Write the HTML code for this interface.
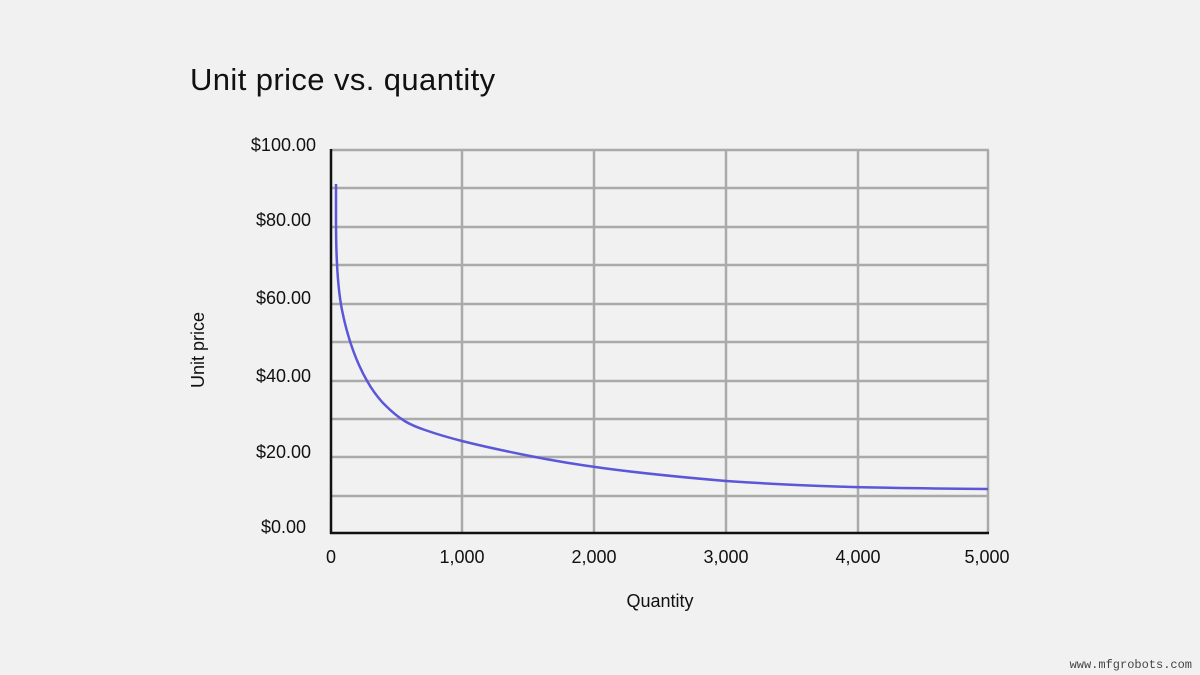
<!DOCTYPE html>
<html><head><meta charset="utf-8"><style>
body{margin:0;background:#f1f1f1;font-family:"Liberation Sans",sans-serif;}
</style></head><body>
<svg width="1200" height="675" xmlns="http://www.w3.org/2000/svg" style="display:block">
<rect width="1200" height="675" fill="#f1f1f1"/>
<text x="190" y="90" font-size="31" fill="#111" letter-spacing="0.4">Unit price vs. quantity</text>
<g stroke="#aaa" stroke-width="2.5">
<line x1="331" y1="150" x2="989" y2="150"/>
<line x1="331" y1="188" x2="989" y2="188"/>
<line x1="331" y1="227" x2="989" y2="227"/>
<line x1="331" y1="265" x2="989" y2="265"/>
<line x1="331" y1="304" x2="989" y2="304"/>
<line x1="331" y1="342" x2="989" y2="342"/>
<line x1="331" y1="381" x2="989" y2="381"/>
<line x1="331" y1="419" x2="989" y2="419"/>
<line x1="331" y1="457" x2="989" y2="457"/>
<line x1="331" y1="496" x2="989" y2="496"/>
<line x1="462" y1="150" x2="462" y2="533"/>
<line x1="594" y1="150" x2="594" y2="533"/>
<line x1="726" y1="150" x2="726" y2="533"/>
<line x1="858" y1="150" x2="858" y2="533"/>
<line x1="988" y1="150" x2="988" y2="533"/>
</g>
<g stroke="#111" stroke-width="2.5">
<line x1="331" y1="149" x2="331" y2="534"/>
<line x1="330" y1="533" x2="989" y2="533"/>
</g>
<path d="M336,184 L336,220 C336,260 338,290 342,310 C350,350 365,385 385,405 C400,420 410,425 425,430 C445,437 470,444 530,456 C570,464 620,472 726,481 C800,486 858,488 988,489" fill="none" stroke="#5b57d8" stroke-width="2.5"/>
<g font-size="18" fill="#111" text-anchor="end">
<text x="316" y="151">$100.00</text>
<text x="311" y="226">$80.00</text>
<text x="311" y="304">$60.00</text>
<text x="311" y="382">$40.00</text>
<text x="311" y="458">$20.00</text>
<text x="306" y="533">$0.00</text>
</g>
<g font-size="18" fill="#111" text-anchor="middle">
<text x="331" y="563">0</text>
<text x="462" y="563">1,000</text>
<text x="594" y="563">2,000</text>
<text x="726" y="563">3,000</text>
<text x="858" y="563">4,000</text>
<text x="987" y="563">5,000</text>
<text x="660" y="607">Quantity</text>
</g>
<text transform="translate(204,350) rotate(-90)" font-size="18" fill="#111" text-anchor="middle">Unit price</text>
<text x="1192" y="668" font-size="12" fill="#444" text-anchor="end" font-family="Liberation Mono, monospace">www.mfgrobots.com</text>
</svg>
</body></html>
